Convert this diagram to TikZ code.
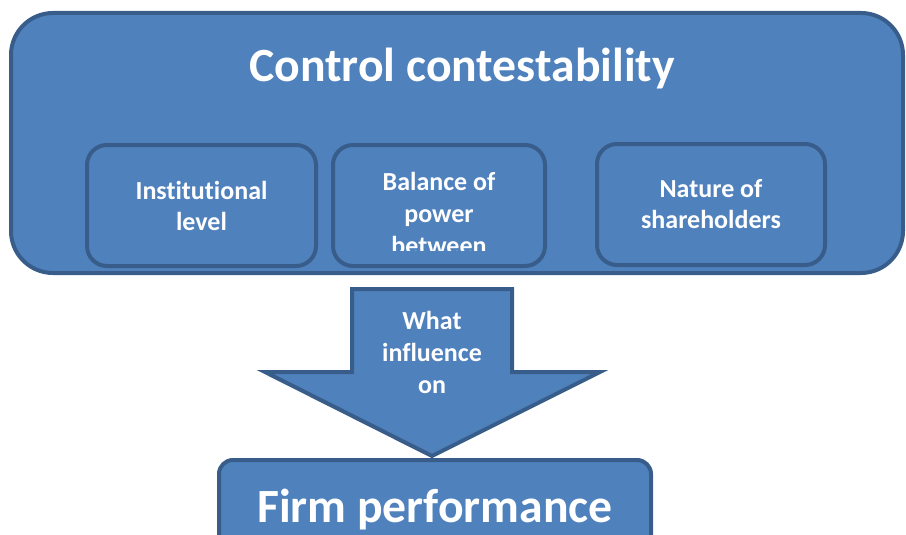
\documentclass[tikz,border=0pt]{standalone}
\usepackage{fontspec}
\setmainfont{Carlito}[Ligatures=NoCommon]
\usetikzlibrary{positioning}
\definecolor{boxfill}{HTML}{4F81BD}
\definecolor{boxline}{HTML}{385D8A}

\begin{document}
\begin{tikzpicture}[
        x=1pt, y=-1pt,
        font=\bfseries,
        base/.style={draw=boxline, line width=4pt, fill=boxfill, text=white, align=center},
        outerbox/.style={base, rounded corners=42pt, minimum width=892pt, minimum height=260pt},
        innerbox/.style={base, rounded corners=20pt, minimum height=121pt, font=\bfseries\fontsize{26}{31}\selectfont},
        resultbox/.style={base, rounded corners=14pt, minimum width=432pt, minimum height=110pt},
        bigtext/.style={text=white, font=\bfseries\fontsize{47.7}{56}\selectfont},
        smalltext/.style={text=white, align=center, font=\bfseries\fontsize{26}{32}\selectfont},
        bigarrow/.style={draw=boxline, line width=4pt, fill=boxfill, line join=miter},
    ]
    \useasboundingbox (0,0) rectangle (906,535);
    \clip (0,0) rectangle (906,535);

    % Nodes
    \node[outerbox] (contest) at (457,143) {};
    \node[bigtext, anchor=base] (title) at (462,82) {Control contestability};
    \node[innerbox, minimum width=229pt] (institutional) at (201.5,205.5) {Institutional\\level};
    \node[innerbox, minimum width=212pt] (balance) at (439,205.5) {};
    \node[innerbox, minimum width=228pt] (nature) at (711,204.5) {Nature of\\shareholders};
    \begin{scope}
        \clip (335,147) rectangle (543,250);
        \node[smalltext] (balancetext) at (439,213) {Balance of\\power\\between};
    \end{scope}

    \node[resultbox] (firm) at (435,515) {};
    \coordinate (tip) at (432,456);

    % Arrow
    \draw[bigarrow] (352,289) -- (512,289) -- (512,372) -- (600,372) -- (tip)
        -- (265,372) -- (352,372) -- cycle;
    \node[smalltext] (influence) at (432,352) {What\\influence\\on};

    \node[bigtext, anchor=base] (perf) at (435,522) {Firm performance};

    \end{tikzpicture}
\end{document}
